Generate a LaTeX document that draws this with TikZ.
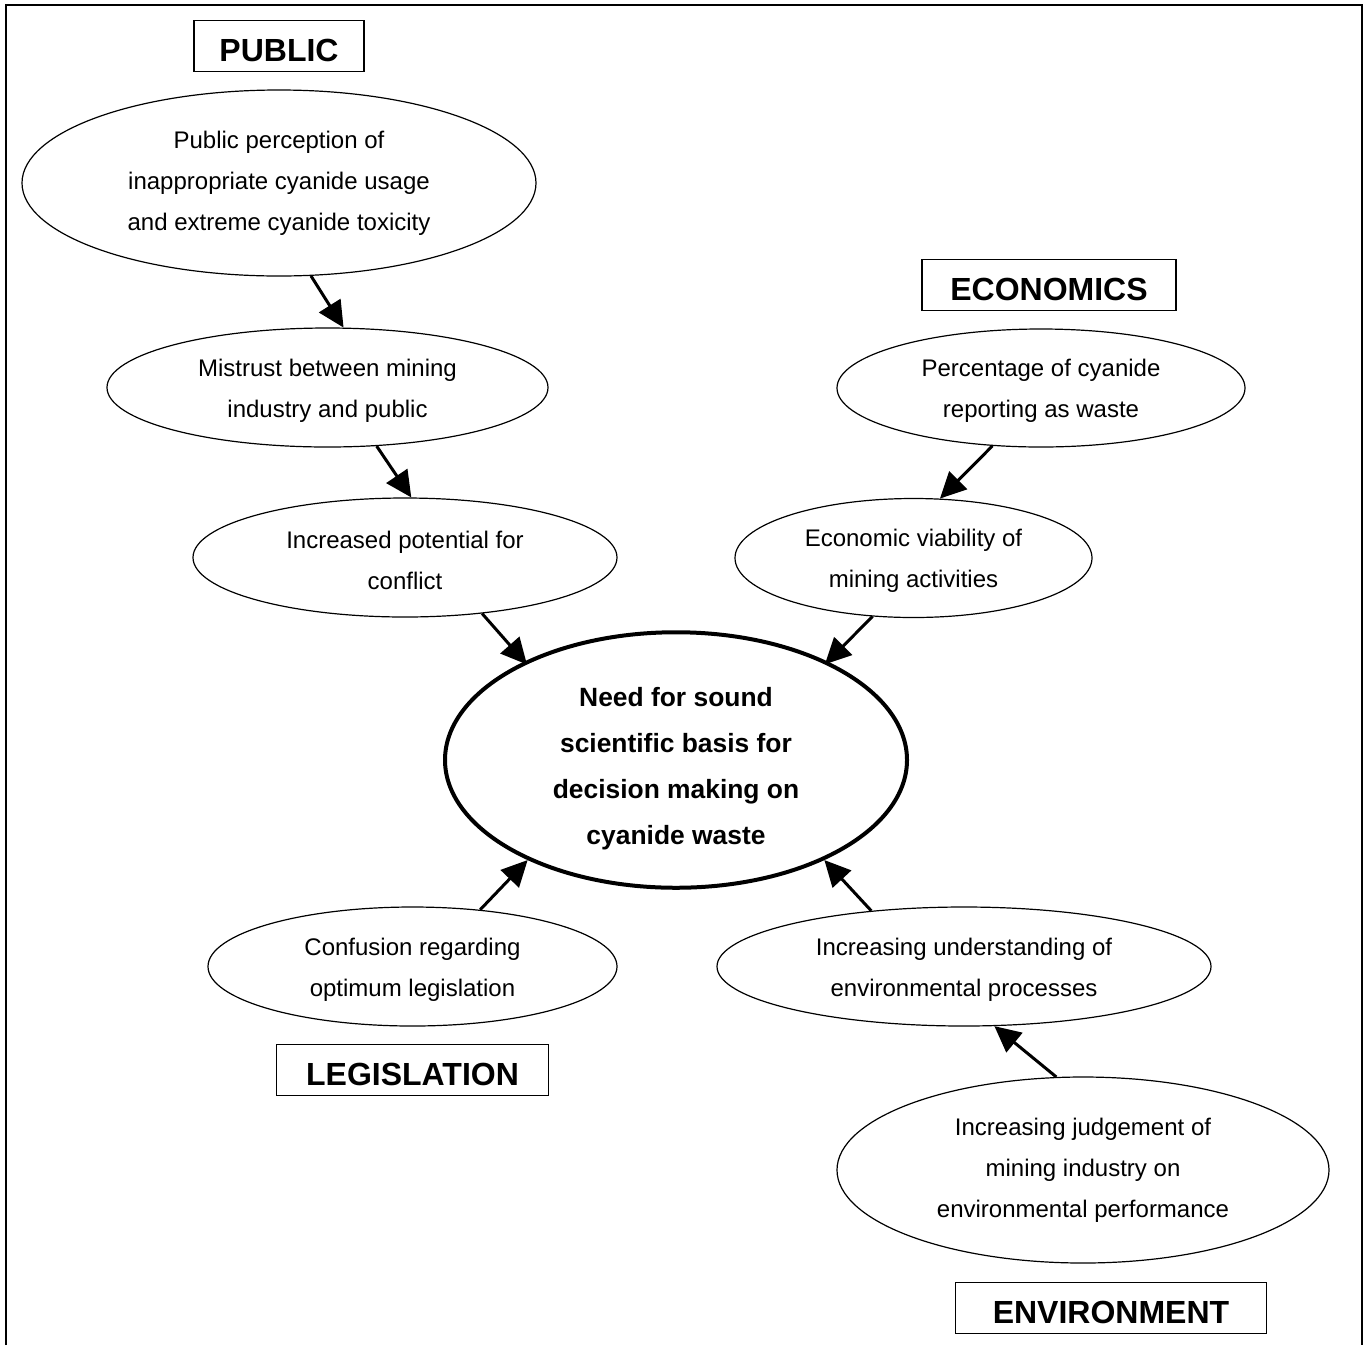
\documentclass[tikz,border=0pt]{standalone}
\usepackage{fontspec}
\setmainfont{Liberation Sans}
\usetikzlibrary{positioning,shapes,arrows.meta}

\begin{document}
\begin{tikzpicture}[
x=0.5pt,y=-0.5pt,
every node/.style={align=center,font=\fontsize{12}{20.5}\selectfont},
bubble/.style={draw,ellipse,line width=0.6pt,inner sep=0pt},
pair/.style={bubble,minimum height=59.5pt,text height=32pt},
tag/.style={draw,rectangle,line width=0.9pt,minimum height=25.5pt,inner sep=0pt,
  text height=15.4pt,text depth=0pt,font=\fontsize{16}{19}\selectfont\bfseries},
arr/.style={line width=1.5pt,-{Triangle[length=13pt,width=12.5pt]}},
]

\useasboundingbox (0,0) rectangle (1370,1345);
\draw[line width=1pt] (6,1345) -- (6,5) -- (1362,5) -- (1362,1345);

\node[bubble,minimum width=257pt,minimum height=93pt] (pub) at (279,183)
  {Public perception of\\inappropriate cyanide usage\\and extreme cyanide toxicity};
\node[pair,minimum width=220.5pt] (mis) at (327.5,387.5)
  {Mistrust between mining\\industry and public};
\node[pair,minimum width=212pt] (inc) at (405,557.5)
  {Increased potential for\\conflict};

\node[pair,minimum width=204pt,minimum height=59pt] (pct) at (1041,388)
  {Percentage of cyanide\\reporting as waste};
\node[pair,minimum width=178.5pt] (eco) at (913.5,558)
  {Economic viability of\\mining activities};

\node[bubble,line width=2pt,minimum width=231pt,minimum height=127.5pt,text height=87.6pt,
  font=\fontsize{13.2}{23}\selectfont\bfseries] (need) at (676,760)
  {Need for sound\\scientific basis for\\decision making on\\cyanide waste};

\node[pair,minimum width=204.5pt] (conf) at (412.5,966.5)
  {Confusion regarding\\optimum legislation};
\node[pair,minimum width=247pt] (und) at (964,966.5)
  {Increasing understanding of\\environmental processes};
\node[bubble,minimum width=246pt,minimum height=93pt] (jud) at (1083,1170)
  {Increasing judgement of\\mining industry on\\environmental performance};

\node[tag,minimum width=85pt] (tpub) [above=8.5pt of pub] {PUBLIC};
\node[tag,minimum width=127pt] (teco) [above=8.5pt of pct,xshift=4pt] {ECONOMICS};
\node[tag,minimum width=136pt] (tleg) [below=8.5pt of conf] {LEGISLATION};
\node[tag,minimum width=155.5pt] (tenv) [below=9pt of jud,xshift=14pt] {ENVIRONMENT};

\draw[arr] (pub.-71) -- (mis.75);
\draw[arr] (mis.-50) -- (inc.84);
\draw[arr,shorten >=-2pt] (inc.-36) -- (need.147);
\draw[arr] (pct.-130) -- (eco.66);
\draw[arr,shorten >=-2pt] (eco.-125) -- (need.33);
\draw[arr] (conf.40) -- (need.-146);
\draw[arr] (und.149) -- (need.-34);
\draw[arr] (jud.106) -- (und.-63);

\end{tikzpicture}
\end{document}
